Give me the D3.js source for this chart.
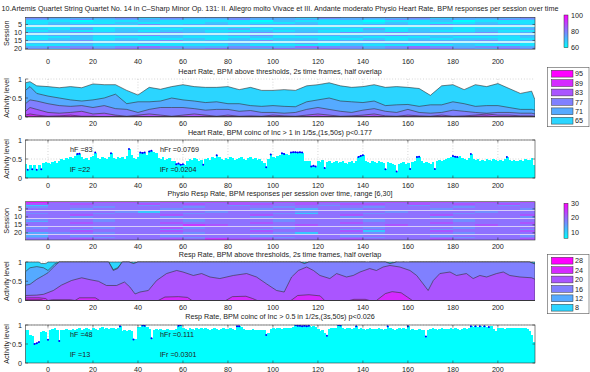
<!DOCTYPE html>
<html>
<head>
<meta charset="utf-8">
<script src="https://cdnjs.cloudflare.com/ajax/libs/d3/7.8.5/d3.min.js"></script>
<style>
  body { margin: 0; background: #fff; }
  text { font-family: "Liberation Sans", Arial, sans-serif; fill: #222; }
</style>
</head>
<body>
<svg id="chart" width="590" height="372"></svg>
<script>
// ---- data ----
const titleText = "10.Artemis Quartet String Quartet No. 14 in C\u2013Sharp Minor Op. 131: II. Allegro molto Vivace et III. Andante moderato Physio Heart Rate, BPM responses per session over time";
const subTitles = [
  "Heart Rate, BPM above thresholds, 2s time frames, half overlap",
  "Heart Rate, BPM coinc of Inc > 1 in 1/5s,(1s,50s) p<0.177",
  "Physio Resp Rate, BPM responses per session over time, range [6,30]",
  "Resp Rate, BPM above thresholds, 2s time frames, half overlap",
  "Resp Rate, BPM coinc of Inc > 0.5 in 1/2s,(3s,50s) p<0.026"
];
const xTicks = [0, 20, 40, 60, 80, 100, 120, 140, 160, 180, 200];
const sessionTicks = [5, 10, 15, 20];
const levelTicks = [0, 0.5, 1];

// heatmaps: one string per session, one digit (0-9 over the colour range) per 10 s column from -10 s; "-" = no data
const hrRows = [
"43334243343324333423334","32423332243332324333243","11011211110211101120111","12112111211121112111211",
"23332423323332233243332","-----------------------","11211121112111211121112","21312212231222131221223",
"12112122112121121211211","33433343234332434333423","-----------------------","23323432234233234323323",
"11211121112111211121112","12212112121221121212211","33423342334233342333423","-----------------------",
"22322312232231223232231","11211111121111211112111","34434543344354434543443","43545434543545434554354"
];
const rrRows = [
"86566565665666556665656","65655656566565665656565","25555455545554555455545","45545554555455545554555",
"55455545554535455545554","-----------------------","55554255455545554555455","45545554555425545554555",
"55655565556555655565556","55455545554555455545554","-----------------------","45545554555455545554555",
"35545554555455545554555","55655565556555655565556","55555557655565556555655","-----------------------",
"45545564555455545554555","55455545554555455545554","55655565556555625565556","34545554555425545554555",
"-----------------------","35455545554555455545554","45545554555455545554555","55655565766555655565556"
];
const hrRange = [60, 100];
const rrRange = [6, 30];
const hrBarTicks = [60, 80, 100];
const rrBarTicks = [10, 20, 30];

// area panels: fraction of sessions above each threshold
const hrThresholds = [65, 71, 77, 83, 89, 95];
const hrT = [-10,-8,-5,0,5,10,15,20,25,30,35,40,45,50,55,60,65,70,75,80,85,90,95,100,105,110,115,120,125,130,135,140,145,150,155,160,165,170,175,180,185,190,195,200,205,210,215,216.5];
const hr65 = [.90,.93,.82,.80,.77,.80,.77,.87,.85,.85, .70,.58,.78,.73,.80,.85,.80,.78,.78,.80, .72,.78,.70,.70,.72,.70,.82,.85,.90,.82, .78,.80,.85,.78,.80,.78,.75,.57,.82,.85, .72,.85,.80,.88,.75,.62,.68, .45];
const hr71 = [.70,.80,.62,.55,.50,.45,.42,.45,.50,.60, .35,.40,.40,.42,.50,.45,.42,.38,.40,.35, .35,.30,.28,.30,.28,.27,.40,.45,.50,.42, .40,.38,.42,.30,.32,.33,.28,.32,.32,.40, .35,.28,.30,.30,.25,.20,.20, .18];
const hr77 = [.35,.45,.42,.35,.30,.28,.30,.25,.30,.22, .20,.12,.20,.25,.25,.25,.22,.18,.20,.20, .15,.17,.12,.12,.10,.12,.20,.25,.20,.15, .12,.18,.22,.15,.12,.20,.12,.10,.12,.18, .15,.12,.10,.12,.12,.10,.10, .08];
const hr83 = [.15,.25,.20,.12,.10,.12,.15,.08,.10,.05, .02,.05,.08,.05,.02,.05,.08,.05,.02,.05, .02,.03,.02,.05,.03,.02,.05,.08,.05,.02, .03,.05,.08,.03,.02,.05,.03,.02,.05,.02, .03,.05,.08,.05,.05,.03,.03, .02];
const hr89 = [.05,.08,.05,.02,.03,.05,.02,.02,0,.02, 0,.02,0,0,0,0,0,.02,0,0, 0,0,0,0,0,0,0,.02,0,0, 0,0,.02,0,0,0,0,0,0,0, 0,.02,.03,0,0,0,0, 0];
const hr95 = [.01,.02,.01,0,0,0,0,0,0,0, 0,0,0,0,0,0,0,0,0,0, 0,0,0,0,0,0,0,0,0,0, 0,0,0,0,0,0,0,0,0,0, 0,0,0,0,0,0,0, 0];

const rrThresholds = [8, 12, 16, 20, 24, 28];
const rr8  = [[-10,1],[-4,1],[-3,.96],[-1,.96],[0,1],[141,1],[142,.97],[143,1],[155,1],[156,.97],[158,1],[159.5,.97],[161,1],[216.5,1]];
const rr12 = [[-10,.75],[-8,.85],[-5,.88],[-2,.85],[0,.78],[3,.95],[5,1],[27,1],[29,.80],[31,.85],[33,1],[36,1],[38,.96],[40,1],[112,1],[114,.96],[116,1],[150,1],[152,.96],[155,1],[214,1],[216.5,.95]];
const rr16 = [[-10,.40],[-8,.42],[-5,.55],[-2,.65],[0,.72],[3,.90],[5,1],[27,1],[29,.78],[31,.83],[33,1],[36,1],[38,.96],[40,1],[112,1],[114,.96],[116,1],[150,1],[152,.96],[155,1],[214,1],[216.5,.95]];
const rr20 = [[-10,.13],[-5,.14],[-2,.16],[2.4,.26],[6,.40],[10.5,.52],[15,.59],[18.7,.54],[22.4,.50],[26,.39],[30.5,.39],[34,.48],[36.4,.35],[38.7,.17],[40.9,.22],[44.6,.26],[48.3,.52],[52.7,.70],[57.2,.78],[60,.74],[64.6,.65],[68.3,.70],[72,.61],[76.4,.57],[82.4,.65],[88.3,.70],[92.7,.61],[97.2,.43],[101.6,.26],[105,.22],[108.3,.61],[111.3,.78],[115,.87],[118,.78],[120.9,.65],[125.3,.57],[128.3,.70],[132.7,.61],[135.7,.65],[138.7,.74],[143,.83],[146,.78],[149,.87],[152,.91],[156.4,.87],[160.9,.78],[163.9,.65],[166.8,.43],[169,.26],[171.3,.52],[174.2,.70],[178.7,.74],[181.6,.65],[186,.70],[189,.57],[192,.65],[195,.61],[199.4,.70],[202.4,.74],[205.3,.65],[209.8,.61],[215,.59],[216.5,.55]];
const rr24 = [[-10,.07],[-4,.07],[-1,.05],[0,0],[2,.02],[10,.02],[12,0],[14,.07],[21,.07],[23,0],[49,0],[52,.09],[58,.10],[62,.08],[64,0],[79,0],[82,.10],[88,.11],[91,.05],[93,0],[108,0],[111,.13],[116,.15],[121,.12],[123,0],[134,0],[136,.03],[141,.03],[143,0],[146,0],[150,.18],[153,.23],[157,.20],[160,.08],[162,0],[216.5,0]];
const rr28 = [[-10,.02],[-3,.02],[-2,0],[216.5,0]];

// coincidence panels, one value per second from -10 s
const hrCoinc = [
 .36,.22,.35,.23,.33,.22,.34,.23,.40,.42,
 .40,.38,.42,.45,.40,.44,.50,.48,.52,.50, .55,.52,.58,.63,.64,.55,.50,.52,.48,.55,
 .58,.67,.52,.50,.55,.52,.50,.56,.65,.52, .50,.54,.52,.55,.50,.58,.76,.60,.52,.50,
 .55,.67,.66,.67,.60,.70,.72,.68,.65,.52, .50,.55,.48,.50,.52,.46,.45,.36,.38,.35,
 .36,.35,.45,.50,.48,.52,.50,.46,.48,.35, .50,.52,.48,.55,.52,.60,.55,.50,.48,.52,
 .50,.55,.52,.48,.50,.52,.55,.50,.48,.52, .55,.50,.52,.48,.50,.45,.40,.28,.50,.62,
 .55,.52,.58,.60,.65,.63,.62,.60,.67,.68, .68,.67,.68,.67,.45,.46,.44,.30,.32,.30,
 .45,.42,.48,.26,.42,.44,.40,.42,.45,.40, .42,.44,.40,.38,.42,.45,.40,.44,.55,.58,
 .60,.45,.42,.40,.44,.42,.40,.45,.42,.40, .23,.42,.40,.38,.35,.17,.38,.40,.42,.38,
 .40,.24,.42,.45,.55,.56,.45,.40,.42,.40, .38,.42,.24,.45,.48,.45,.48,.50,.52,.55,
 .58,.56,.55,.58,.52,.50,.48,.52,.63,.50, .48,.50,.45,.48,.46,.50,.48,.45,.50,.48,
 .46,.48,.45,.50,.55,.48,.45,.47,.44,.46, .48,.45,.50,.47,.48,.52,.35
];
const hrCoincMarked = [-9,-7,-5,-3,13,14,21,28,36,41,42,43,45,46,57,58,59,60,69,75,97,99,104,105,108,109,110,111,112,113,117,118,119,123,138,139,140,150,155,161,164,165,172,180,181,182,188,204];
const rrCoinc = [
 .88,.86,.75,.70,.50,.52,.55,.82,.84,.82,
 .61,.88,.90,.92,.88,.58,.88,.86,.90,.88, .88,.90,.86,.90,.92,.88,.90,.92,.90,.88,
 .92,.90,.88,.92,.94,.90,.92,.90,.93,.92, .90,.92,.97,.85,.86,.84,.86,.85,.62,.64,
 .95,.94,.99,.98,.95,.90,.65,.88,.90,.88, .90,.86,.88,.90,.88,.86,.88,.90,.98,1.0,
 .92,.90,.88,.92,.90,.88,.92,.90,.91,.90, .92,.90,.88,.90,.92,.90,.88,.90,.92,.90,
 .90,.92,.90,.88,.97,.97,.96,.90,.88,.86, .88,.90,.86,.88,.87,.86,.88,.74,.78,.90,
 .92,.90,.93,.92,.90,.92,.93,.92,.92,.94, 1.0,.98,.98,.97,.98,.97,.98,.96,.97,.95,
 .90,.85,.88,.80,.72,.90,.92,.93,.92,1.0, .99,.92,.90,.93,.92,.90,.92,.97,.90,.91,
 .90,.88,.90,.92,.90,.89,.90,.92,.90,.88, .90,.97,.92,.90,.88,.90,.92,.90,.91,.90,
 .97,.88,.90,.87,.88,.90,.87,.88,.70,.88, .90,.92,.90,.88,.90,.92,.90,.89,.90,.92,
 .90,.92,.90,.88,.90,.92,.90,.93,.97,.95, .97,.96,.97,.95,.97,.96,.95,.97,.90,.85,
 .92,.93,.92,.90,.92,.93,.92,.91,.92,.93, .92,.93,.92,.90,.85,.75,.55
];
const rrCoincMarked = [-6,-5,-4,0,5,32,38,42,43,46,58,59,84,85,97,110,111,112,113,114,115,116,124,129,130,137,151,160,168,188,190,192,194,196];
const hrStats = ["hF =83", "hFr =0.0769", "lF =22", "lFr =0.0204"];
const rrStats = ["hF =48", "hFr =0.111", "lF =13", "lFr =0.0301"];

// ---- layout ----
const svg = d3.select("#chart");
const fs = 7.2;
const x = d3.scaleLinear().domain([-10, 216.5]).range([25.5, 535]);
const cool = t => d3.rgb(255 * t, 255 * (1 - t), 255);
const levelColor = i => cool((i + 1) / 6);

svg.append("text").attr("x", 280).attr("y", 11).attr("text-anchor", "middle")
  .attr("font-size", fs).text(titleText);

const defs = svg.append("defs");

function subtitle(txt, y) {
  svg.append("text").attr("x", 280).attr("y", y).attr("text-anchor", "middle")
    .attr("font-size", fs).text(txt);
}

function xAxisLabels(y) {
  svg.append("g").selectAll("text").data(xTicks).join("text")
    .attr("x", d => x(d)).attr("y", y).attr("text-anchor", "middle")
    .attr("font-size", fs).text(d => d);
}

function yTitle(txt, yMid) {
  svg.append("text").attr("transform", `translate(9,${yMid}) rotate(-90)`)
    .attr("text-anchor", "middle").attr("font-size", fs).text(txt);
}

function clip(id, top, bottom) {
  defs.append("clipPath").attr("id", id).append("rect")
    .attr("x", x.range()[0]).attr("y", top)
    .attr("width", x.range()[1] - x.range()[0]).attr("height", bottom - top);
}

// the y axis always spans 24 sessions; the image covers the rows that exist
function heatmap(rows, range, top, gapColor, barTicks, barTop, barBottom, id) {
  const y = d3.scaleLinear().domain([0.5, 24.5]).range([top, top + 38.3]);
  const bottom = y(rows.length + 0.5);
  const c = d3.scaleLinear().domain(range).range([0, 1]).clamp(true);
  const step = (range[1] - range[0]) / 9;
  const cells = [];
  rows.forEach((r, i) => r.split("").forEach((ch, j) => {
    cells.push({ s: i + 1, t: -10 + j * 10, v: ch === "-" ? null : range[0] + (+ch) * step });
  }));
  clip(id, top, bottom);
  svg.append("g").attr("clip-path", `url(#${id})`).attr("shape-rendering", "crispEdges")
    .selectAll("rect").data(cells).join("rect")
    .attr("x", d => x(d.t)).attr("width", x(10) - x(0) + 0.5)
    .attr("y", d => y(d.s - 0.5)).attr("height", y(1.5) - y(0.5) + 0.2)
    .attr("fill", d => d.v === null ? gapColor : cool(c(d.v)));
  // box with inner ticks
  const ax = svg.append("g").attr("stroke", "#333").attr("stroke-width", 0.6);
  ax.append("rect").attr("x", x.range()[0]).attr("y", top)
    .attr("width", x.range()[1] - x.range()[0]).attr("height", bottom - top).attr("fill", "none");
  xTicks.forEach(t => {
    ax.append("line").attr("x1", x(t)).attr("x2", x(t)).attr("y1", top).attr("y2", top + 2.5);
    ax.append("line").attr("x1", x(t)).attr("x2", x(t)).attr("y1", bottom).attr("y2", bottom - 2.5);
  });
  sessionTicks.forEach(t => {
    ax.append("line").attr("x1", x.range()[0]).attr("x2", x.range()[0] + 2.5).attr("y1", y(t)).attr("y2", y(t));
    ax.append("line").attr("x1", x.range()[1]).attr("x2", x.range()[1] - 2.5).attr("y1", y(t)).attr("y2", y(t));
  });
  svg.append("g").selectAll("text").data(sessionTicks).join("text")
    .attr("x", 22).attr("y", d => y(d) + 2.5).attr("text-anchor", "end")
    .attr("font-size", fs).text(d => d);
  yTitle("Session", (top + bottom) / 2);
  // colorbar
  const grad = defs.append("linearGradient").attr("id", id + "g")
    .attr("x1", 0).attr("x2", 0).attr("y1", 1).attr("y2", 0);
  d3.range(0, 1.01, 0.1).forEach(t => grad.append("stop").attr("offset", t).attr("stop-color", cool(t)));
  const cb = d3.scaleLinear().domain(range).range([barBottom, barTop]);
  svg.append("rect").attr("x", 564).attr("y", barTop).attr("width", 4).attr("height", barBottom - barTop)
    .attr("fill", `url(#${id}g)`).attr("stroke", "#333").attr("stroke-width", 0.5);
  svg.append("g").selectAll("text").data(barTicks).join("text")
    .attr("x", 571).attr("y", d => cb(d) + 2.5).attr("font-size", fs).text(d => d);
}

function levelAxis(y, top, bottom) {
  svg.append("g").selectAll("text").data(levelTicks).join("text")
    .attr("x", 22).attr("y", d => y(d) + 2.5).attr("text-anchor", "end")
    .attr("font-size", fs).text(d => d);
  yTitle("Activity level", (top + bottom) / 2);
}

function grid(y, top, bottom) {
  const g = svg.append("g").attr("stroke", "#999").attr("stroke-width", 0.5).attr("stroke-dasharray", "0.8,2");
  xTicks.forEach(t => g.append("line").attr("x1", x(t)).attr("x2", x(t)).attr("y1", top).attr("y2", bottom));
  [0.5, 1].forEach(v => g.append("line").attr("x1", x.range()[0]).attr("x2", x.range()[1]).attr("y1", y(v)).attr("y2", y(v)));
}

function areaPanel(series, thresholds, top, bottom, legTop, id) {
  const y = d3.scaleLinear().domain([0, 1]).range([bottom, top]);
  grid(y, top, bottom);
  clip(id, top - 1, bottom);
  const g = svg.append("g").attr("clip-path", `url(#${id})`);
  const area = d3.area().x(d => x(d[0])).y0(y(0)).y1(d => y(d[1]));
  series.forEach((s, i) => {
    g.append("path").attr("d", area(s)).attr("fill", levelColor(i))
      .attr("stroke", "#333").attr("stroke-width", 0.6);
  });
  const ax = svg.append("g").attr("stroke", "#333").attr("stroke-width", 0.6);
  ax.append("line").attr("x1", x.range()[0]).attr("x2", x.range()[0]).attr("y1", top).attr("y2", bottom);
  ax.append("line").attr("x1", x.range()[0]).attr("x2", x.range()[1]).attr("y1", bottom).attr("y2", bottom);
  levelTicks.forEach(v => ax.append("line").attr("x1", x.range()[0]).attr("x2", x.range()[0] + 2.5).attr("y1", y(v)).attr("y2", y(v)));
  levelAxis(y, top, bottom);
  // legend, highest threshold first
  const n = thresholds.length, rowH = 9.4;
  svg.append("rect").attr("x", 547.5).attr("y", legTop).attr("width", 41.5).attr("height", n * rowH + 3)
    .attr("fill", "#fff").attr("stroke", "#555").attr("stroke-width", 0.6);
  thresholds.slice().reverse().forEach((t, k) => {
    const i = n - 1 - k;
    const yy = legTop + 3 + k * rowH;
    svg.append("rect").attr("x", 551.5).attr("y", yy).attr("width", 21.5).attr("height", 6.8)
      .attr("fill", levelColor(i)).attr("stroke", "#333").attr("stroke-width", 0.5);
    svg.append("text").attr("x", 575).attr("y", yy + 6).attr("font-size", fs).text(t);
  });
}

function coincPanel(vals, marked, stats, top, bottom, id) {
  const y = d3.scaleLinear().domain([0, 1]).range([bottom, top]);
  const pts = vals.map((v, i) => [-10 + i, v]);
  grid(y, top, bottom);
  clip(id, top, bottom);
  const g = svg.append("g").attr("clip-path", `url(#${id})`);
  g.append("g").attr("shape-rendering", "crispEdges")
    .selectAll("rect").data(pts).join("rect")
    .attr("x", d => x(d[0] - 0.5)).attr("width", x(1) - x(0) + 0.6)
    .attr("y", d => y(d[1])).attr("height", d => y(0) - y(d[1]))
    .attr("fill", "#00ffff");
  const mk = new Set(marked);
  const line = d3.line().defined(d => mk.has(d[0])).x(d => x(d[0])).y(d => y(d[1]));
  g.append("path").attr("d", line(pts)).attr("fill", "none").attr("stroke", "#0000ff").attr("stroke-width", 0.8);
  g.selectAll("circle").data(pts.filter(d => mk.has(d[0]))).join("circle")
    .attr("cx", d => x(d[0])).attr("cy", d => y(d[1])).attr("r", 1).attr("fill", "#0000ff");
  const ax = svg.append("g").attr("stroke", "#333").attr("stroke-width", 0.6);
  ax.append("rect").attr("x", x.range()[0]).attr("y", top)
    .attr("width", x.range()[1] - x.range()[0]).attr("height", bottom - top).attr("fill", "none");
  xTicks.forEach(t => {
    ax.append("line").attr("x1", x(t)).attr("x2", x(t)).attr("y1", top).attr("y2", top + 2.5);
    ax.append("line").attr("x1", x(t)).attr("x2", x(t)).attr("y1", bottom).attr("y2", bottom - 2.5);
  });
  levelTicks.forEach(v => {
    ax.append("line").attr("x1", x.range()[0]).attr("x2", x.range()[0] + 2.5).attr("y1", y(v)).attr("y2", y(v));
    ax.append("line").attr("x1", x.range()[1]).attr("x2", x.range()[1] - 2.5).attr("y1", y(v)).attr("y2", y(v));
  });
  levelAxis(y, top, bottom);
  const sx = [70, 160, 70, 160], sy = [y(0.75), y(0.75), y(0.22), y(0.22)];
  stats.forEach((s, i) => svg.append("text").attr("x", sx[i]).attr("y", sy[i] + 2.5).attr("font-size", fs).text(s));
}

// ---- panels ----
heatmap(hrRows, hrRange, 17.3, "#c4f2fc", hrBarTicks, 15, 47.7, "h1");
xAxisLabels(64);
subtitle(subTitles[0], 73.5);
areaPanel([hr65, hr71, hr77, hr83, hr89, hr95].map(s => s.map((v, i) => [hrT[i], v])), hrThresholds, 79, 117, 67.3, "a1");
xAxisLabels(126);
subtitle(subTitles[1], 134.5);
coincPanel(hrCoinc, hrCoincMarked, hrStats, 140, 178, "c1");
xAxisLabels(187.5);
subtitle(subTitles[2], 196);
heatmap(rrRows, rrRange, 201.7, "#d6ccfa", rrBarTicks, 203.3, 238.3, "h2");
xAxisLabels(248.5);
subtitle(subTitles[3], 257);
areaPanel([rr8, rr12, rr16, rr20, rr24, rr28], rrThresholds, 262, 300.5, 254.3, "a2");
xAxisLabels(310);
subtitle(subTitles[4], 318.5);
coincPanel(rrCoinc, rrCoincMarked, rrStats, 325, 363, "c2");
xAxisLabels(371.5);
</script>
</body>
</html>
